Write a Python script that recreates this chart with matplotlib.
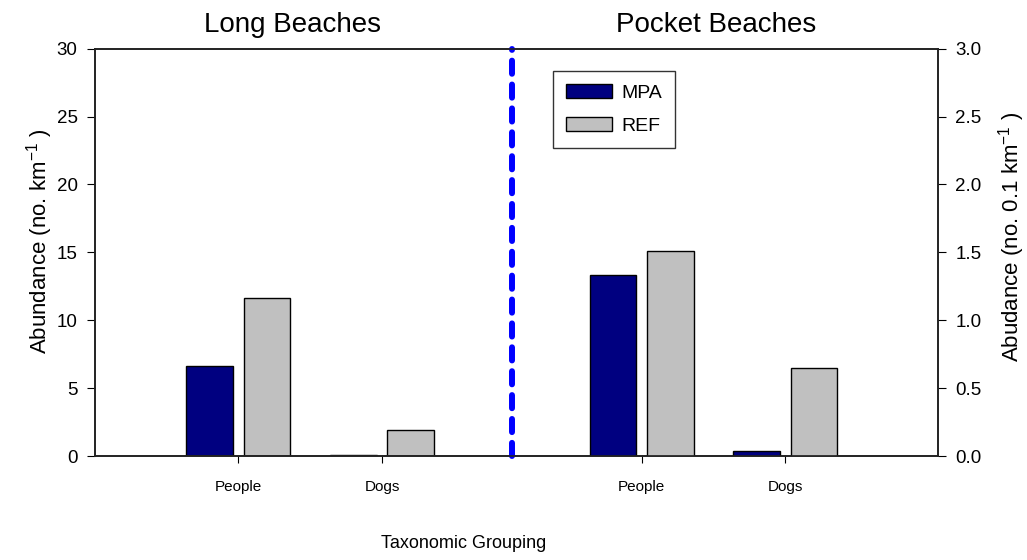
import matplotlib
matplotlib.use("Agg")
import matplotlib.pyplot as plt
from matplotlib.patches import Patch

plt.rcParams["font.family"] = ["Liberation Sans", "DejaVu Sans"]

# ---------------- data ----------------
categories  = ["People", "Dogs"]
long_mpa    = [6.65, 0.10]     # no. km^-1
long_ref    = [11.65, 1.88]
pocket_mpa  = [1.33, 0.037]    # no. 0.1 km^-1
pocket_ref  = [1.51, 0.645]
series      = ["MPA", "REF"]
# --------------------------------------

MPA_COL = "#000080"
REF_COL = "#c0c0c0"
W = 0.325
OFF = 0.2

long_x = [1.0, 2.0]
pocket_x = [3.81, 4.81]

fig = plt.figure(figsize=(10.27, 5.6), dpi=100)
ax = fig.add_axes([0.0925, 0.1857, 0.8208, 0.7273])
ax2 = ax.twinx()

ax.bar([x - OFF for x in long_x], long_mpa, W, color=MPA_COL, edgecolor="black", lw=1)
ax.bar([x + OFF for x in long_x], long_ref, W, color=REF_COL, edgecolor="black", lw=1)
ax2.bar([x - OFF for x in pocket_x], pocket_mpa, W, color=MPA_COL, edgecolor="black", lw=1)
ax2.bar([x + OFF for x in pocket_x], pocket_ref, W, color=REF_COL, edgecolor="black", lw=1)

ax.set_xlim(0, 5.875)
ax.set_ylim(0, 30)
ax2.set_ylim(0, 3)
ax.set_yticks(range(0, 31, 5))
ax2.set_yticks([i * 0.5 for i in range(7)])
ax2.set_yticklabels([f"{i * 0.5:.1f}" for i in range(7)])

ax.set_xticks(long_x + pocket_x)
ax.set_xticklabels(categories + categories, fontsize=11)
ax.tick_params(axis="x", length=5, pad=12)
ax.tick_params(axis="y", length=6, labelsize=13.5, pad=6.5)
ax2.tick_params(axis="y", length=6, labelsize=13.5, pad=6.5)

for a in (ax, ax2):
    for s in a.spines.values():
        s.set_linewidth(1.2)
        s.set_color("#222222")

# divider between beach types
ax.axvline(2.907, color="#0000ff", lw=4.3, linestyle=(0, (2.2, 1.8)),
           dash_capstyle="round", clip_on=False, zorder=5)

fig.text(40 / 1027, 1 - 241 / 560, "Abundance (no. km$^{\\mathregular{-1}}$ )",
         fontsize=16, rotation=90, ha="center", va="center")
fig.text(1012 / 1027, 1 - 237 / 560, "Abudance (no. 0.1 km$^{\\mathregular{-1}}$ )",
         fontsize=16, rotation=90, ha="center", va="center")

fig.text(292 / 1027, 1 - 25 / 560, "Long Beaches", fontsize=20, ha="center", va="center")
fig.text(716 / 1027, 1 - 25 / 560, "Pocket Beaches", fontsize=20, ha="center", va="center")
fig.text(464 / 1027, 1 - 543 / 560, "Taxonomic Grouping", fontsize=13, ha="center", va="center")

handles = [Patch(facecolor=MPA_COL, edgecolor="black"),
           Patch(facecolor=REF_COL, edgecolor="black")]
leg = ax.legend(handles, series, loc="upper left", bbox_to_anchor=(0.5433, 0.945),
                fontsize=14, frameon=True, fancybox=False, edgecolor="black",
                handlelength=2.37, handleheight=0.75, handletextpad=0.5,
                borderpad=0.65, labelspacing=0.8, borderaxespad=0)
leg.get_frame().set_linewidth(1.0)

fig.savefig("out.png", dpi=100)
